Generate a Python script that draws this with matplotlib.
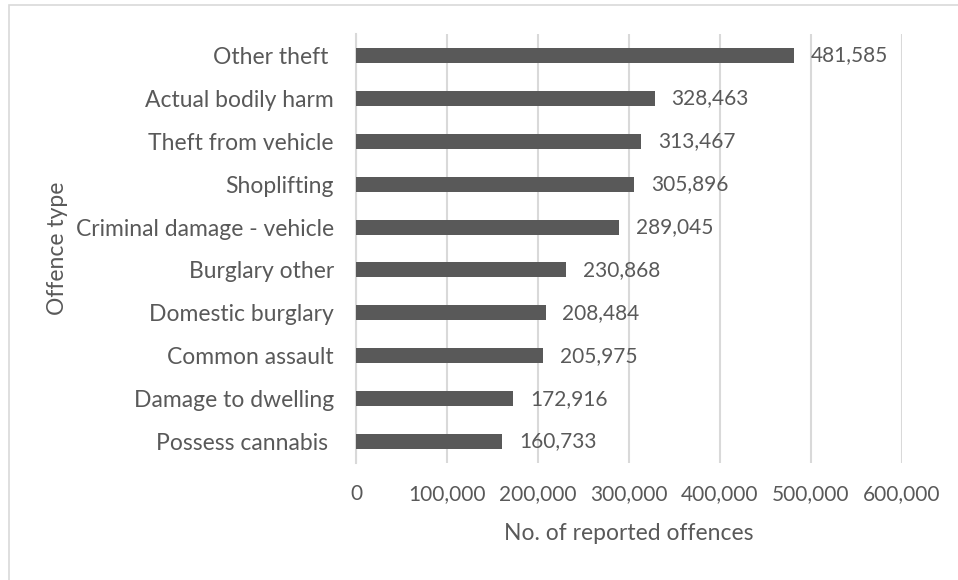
import numpy as np
import matplotlib.pyplot as plt
import matplotlib.patches as patches
from matplotlib.ticker import FuncFormatter

# offence categories, largest first
offences = ['Other theft ', 'Actual bodily harm', 'Theft from vehicle', 'Shoplifting',
            'Criminal damage - vehicle', 'Burglary other', 'Domestic burglary',
            'Common assault', 'Damage to dwelling', 'Possess cannabis ']
counts = [481585, 328463, 313467, 305896, 289045, 230868, 208484, 205975, 172916, 160733]
xticks = [0, 100000, 200000, 300000, 400000, 500000, 600000]

grey = '#595959'
fs = 16.5      # category and axis titles
fs_num = 15    # numbers (Lato digits run wide)
plt.rcParams['font.family'] = ['Lato', 'DejaVu Sans']

fig = plt.figure(figsize=(9.58, 5.8), dpi=100)
ax = fig.add_axes([356/958, 1-463/580, 546/958, 429/580])

y = np.arange(len(offences))
ax.barh(y, counts, height=0.35, color=grey, zorder=3)
for yi, c in zip(y, counts):
    ax.annotate('{:,}'.format(c), (c, yi), xytext=(12, 0), textcoords='offset points',
                va='center', ha='left', fontsize=fs_num, color=grey)

ax.set_ylim(len(offences)-0.5, -0.5)
ax.set_xlim(0, 600000)
ax.set_yticks(y)
ax.set_yticklabels(offences)
ax.set_xticks(xticks)
ax.xaxis.set_major_formatter(FuncFormatter(lambda v, p: '{:,}'.format(int(v))))
ax.tick_params(axis='both', length=0, labelcolor=grey)
ax.tick_params(axis='y', pad=16, labelsize=fs)
ax.tick_params(axis='x', pad=15, labelsize=fs_num)

ax.grid(axis='x', color='#d9d9d9', linewidth=1.5, zorder=0)
for s in ['top', 'right', 'bottom']:
    ax.spines[s].set_visible(False)
ax.spines['left'].set_color('#d9d9d9')
ax.spines['left'].set_linewidth(1.5)

ax.set_xlabel('No. of reported offences', fontsize=fs, color=grey, va='center')
ax.set_ylabel('Offence type', fontsize=fs, color=grey, va='center')
ax.xaxis.set_label_coords(0.5, -70/429)
ax.yaxis.set_label_coords(-298/546, 0.5)

# chart area outline
fig.patches.append(patches.Rectangle((9/958, -0.1), 1.1, 0.1+575/580, transform=fig.transFigure,
                                     fill=False, edgecolor='#d9d9d9', linewidth=1.2))

plt.savefig('out.png', dpi=100)
